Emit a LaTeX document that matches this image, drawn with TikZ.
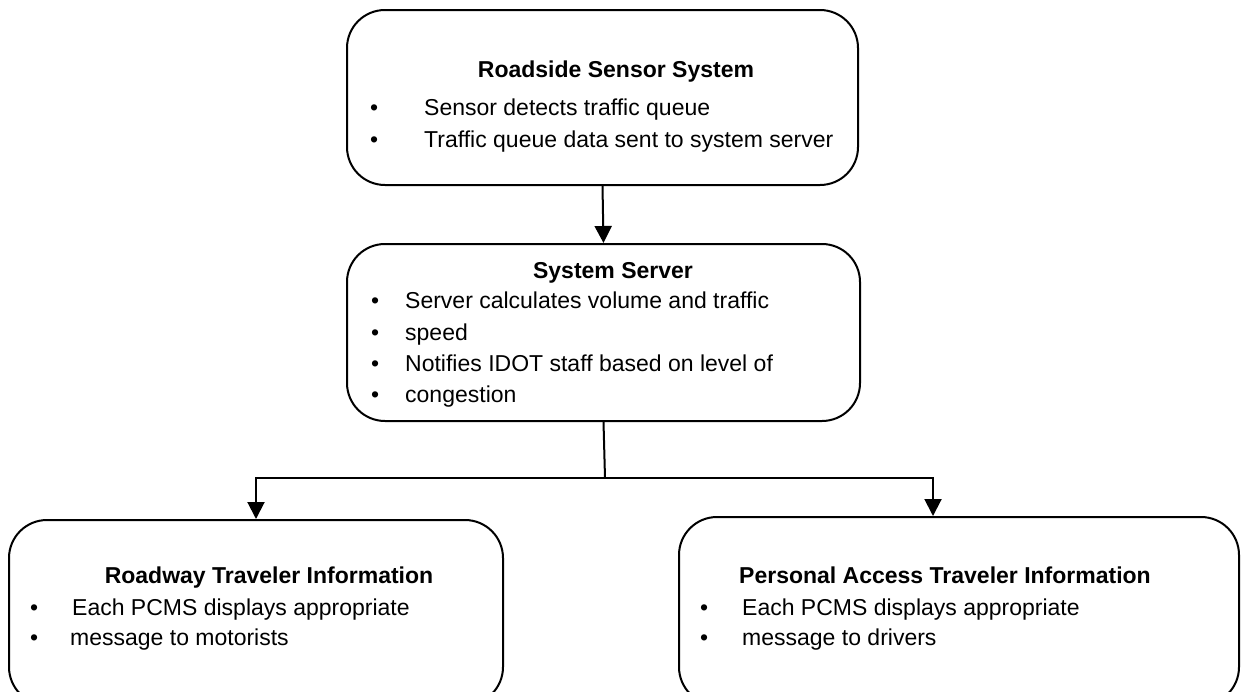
\documentclass[tikz,border=0pt]{standalone}
\usepackage{fontspec}
\setmainfont{Liberation Sans}
\usetikzlibrary{arrows.meta}
\begin{document}
\begin{tikzpicture}[x=1pt,y=-1pt,
  box/.style={draw, line width=2pt, rounded corners=38pt, inner sep=0pt, rectangle},
  txt/.style={anchor=base west, inner sep=0pt, font=\fontsize{23}{27}\selectfont},
  ttl/.style={anchor=base, inner sep=0pt, font=\fontsize{23}{27}\selectfont\bfseries},
  conn/.style={line width=2pt},
  arr/.style={conn, -{Triangle[width=17pt,length=17pt]}}]
\useasboundingbox (0,0) rectangle (1244,691);
% boxes
\node[box, minimum width=511pt, minimum height=175pt] (top) at (602.5,97.5) {};
\node[box, minimum width=513pt, minimum height=177pt] (mid) at (603.5,332.5) {};
\node[box, minimum width=494pt, minimum height=185pt] (left) at (256,612.5) {};
\node[box, minimum width=560pt, minimum height=188pt] (right) at (959,611) {};
% top text
\node[ttl] (t0) at (616,77) {Roadside Sensor System};
\node[txt] (tb1) at (370,115) {•};
\node[txt] (t1) at (424,115) {Sensor detects traffic queue};
\node[txt] (tb2) at (370,147) {•};
\node[txt] (t2) at (424,147) {Traffic queue data sent to system server};
% middle text
\node[ttl] (m0) at (613,278) {System Server};
\node[txt] (mb1) at (371,308) {•};
\node[txt] (m1) at (405,308) {Server calculates volume and traffic};
\node[txt] (mb2) at (371,340) {•};
\node[txt] (m2) at (405,340) {speed};
\node[txt] (mb3) at (371,371) {•};
\node[txt] (m3) at (405,371) {Notifies IDOT staff based on level of};
\node[txt] (mb4) at (371,402) {•};
\node[txt] (m4) at (405,402) {congestion};
% left text
\node[ttl] (l0) at (269,583) {Roadway Traveler Information};
\node[txt] (lb1) at (30,615) {•};
\node[txt] (l1) at (72,615) {Each PCMS displays appropriate};
\node[txt] (lb2) at (30,645) {•};
\node[txt] (l2) at (70,645) {message to motorists};
% right text
\node[ttl] (r0) at (945,583) {Personal Access Traveler Information};
\node[txt] (rb1) at (700,615) {•};
\node[txt] (r1) at (742,615) {Each PCMS displays appropriate};
\node[txt] (rb2) at (700,645) {•};
\node[txt] (r2) at (742,645) {message to drivers};
% connectors
\coordinate (j) at (605,478);
\coordinate (rt) at ([xshift=-26pt]right.north);
\draw[arr] (top.south) -- (mid.north);
\draw[conn] (mid.south) -- (j);
\draw[arr] (j) -| (left.north);
\draw[arr] (j) -| (rt);
\end{tikzpicture}
\end{document}
